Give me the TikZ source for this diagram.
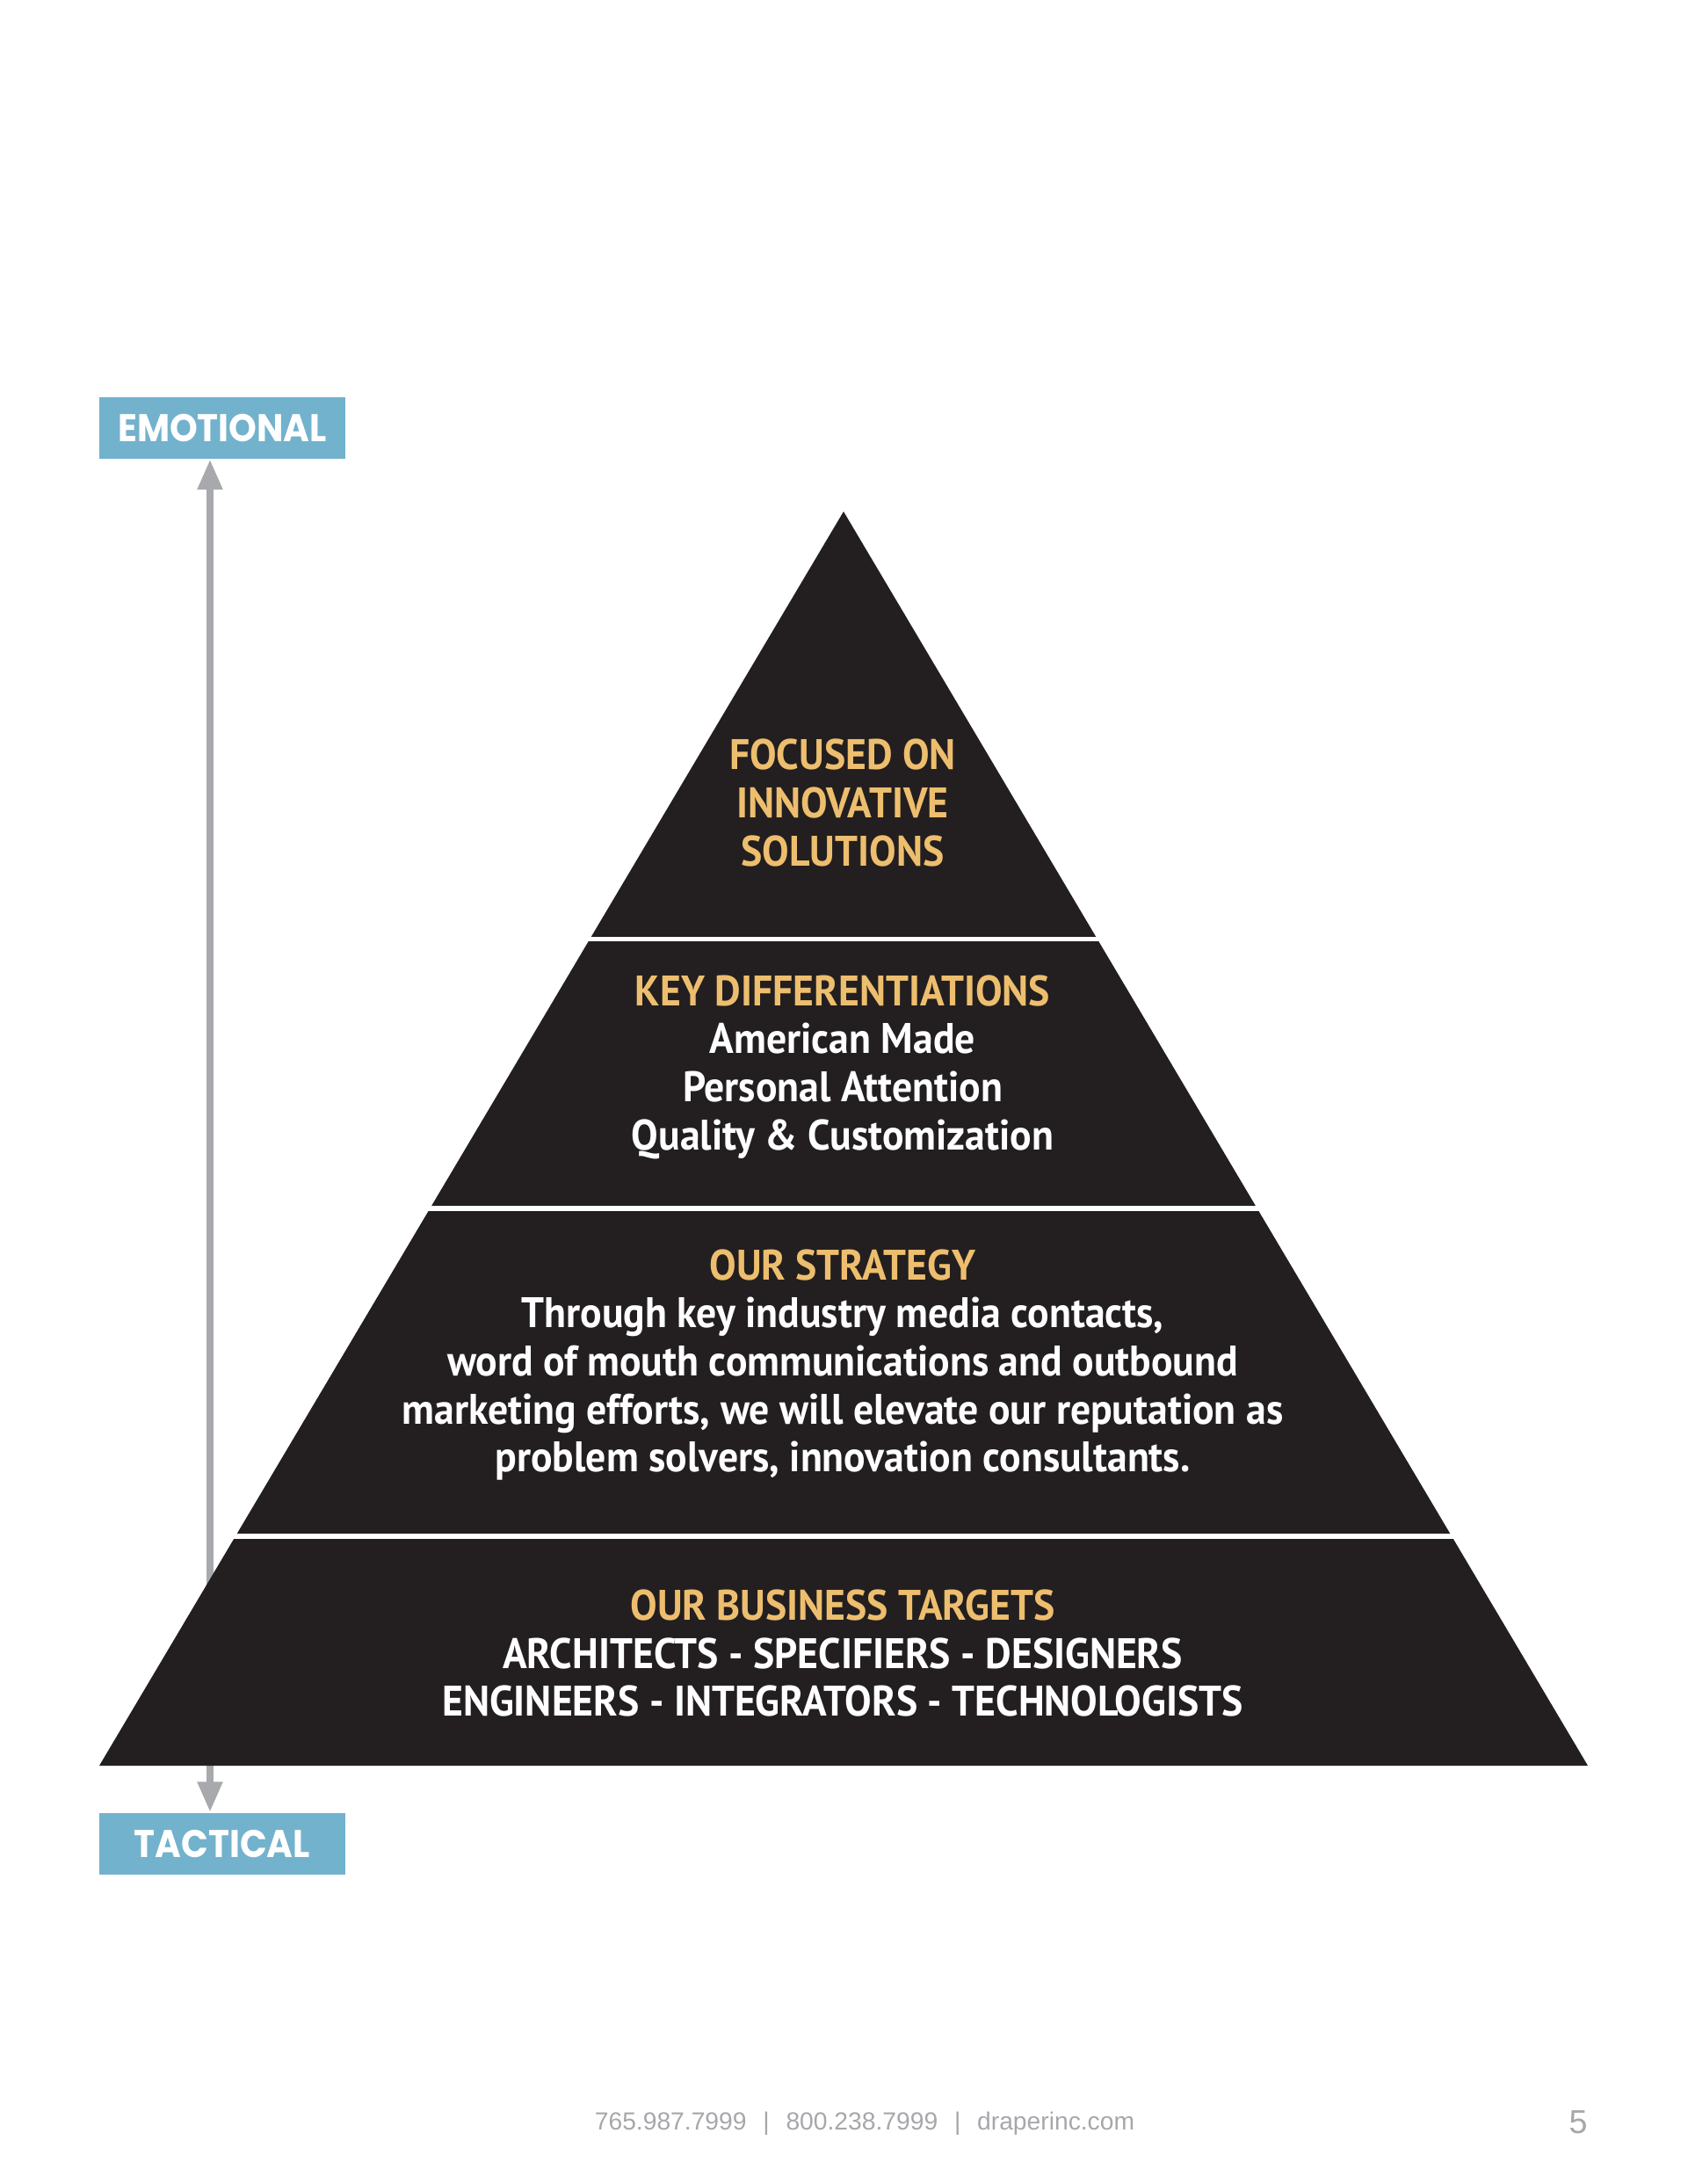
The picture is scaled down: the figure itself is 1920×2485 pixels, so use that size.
\documentclass[tikz,border=0pt]{standalone}
\usepackage{fontspec}
\usetikzlibrary{calc}
\usetikzlibrary{arrows.meta}
\setmainfont{Liberation Sans}
\newfontfamily\pyrfont[FakeStretch=0.94]{PT Sans}
\newfontfamily\tagfont[FakeStretch=0.92]{Poppins}
\definecolor{pyrblack}{RGB}{35,31,32}
\definecolor{pyrgold}{RGB}{237,190,110}
\definecolor{tagblue}{RGB}{114,178,205}
\definecolor{axisgray}{RGB}{167,169,172}
\definecolor{footgray}{RGB}{165,167,170}

\begin{document}
\begin{tikzpicture}[x=0.31875pt, y=-0.31875pt,
    tag/.style={fill=tagblue, text=white, inner sep=0pt,
        minimum width=89.25pt, minimum height=22.3pt,
        font=\tagfont\bfseries\fontsize{14}{16}\selectfont},
    level/.style={text=white, align=center,
        font=\pyrfont\bfseries\fontsize{15.5}{17.4}\selectfont},
    axistip/.tip={Triangle[length=11pt, width=8.6pt]}]

    \useasboundingbox (0,0) rectangle (1920,2485);

    \node [tag] (emo) at (253,487) {EMOTIONAL};
    \node [tag] (tac) at (253,2097.5) {TACTICAL};
    \coordinate (axis) at (239,0);
    \draw [axisgray, line width=2.6pt, axistip-axistip] (emo.south -| axis) -- (tac.north -| axis);

    \coordinate (apex) at (960,582);
    \coordinate (bl) at (113,2009);
    \coordinate (br) at (1807,2009);
    \fill [pyrblack] (apex) -- (br) -- (bl) -- cycle;

    \foreach \y in {1068.5,1375,1748} {
        \pgfmathsetmacro\dx{0.5936*(\y-582)+6}
        \draw [white, line width=1.8pt] (960-\dx,\y) -- (960+\dx,\y);
    }

    \node [level, text=pyrgold] (focus) at (959,913.5) {FOCUSED ON\\INNOVATIVE\\SOLUTIONS};
    \node [level] (diff) at (959,1214) {{\color{pyrgold}KEY DIFFERENTIATIONS}\\American Made\\Personal Attention\\Quality \& Customization};
    \node [level] (strat) at (959,1553) {{\color{pyrgold}OUR STRATEGY}\\Through key industry media contacts,\\word of mouth communications and outbound\\marketing efforts, we will elevate our reputation as\\problem solvers, innovation consultants.};
    \node [level] (target) at (959,1881) {{\color{pyrgold}OUR BUSINESS TARGETS}\\ARCHITECTS - SPECIFIERS - DESIGNERS\\ENGINEERS - INTEGRATORS - TECHNOLOGISTS};

    \node [footgray, font=\fontsize{9}{11}\selectfont, anchor=base] (foot) at (984,2423)
        {765.987.7999\hspace{6pt}|\hspace{6pt}800.238.7999\hspace{6pt}|\hspace{6pt}draperinc.com};
    \node [footgray, font=\fontsize{12}{14}\selectfont, anchor=base] (page) at (1796,2427) {5};
\end{tikzpicture}
\end{document}
